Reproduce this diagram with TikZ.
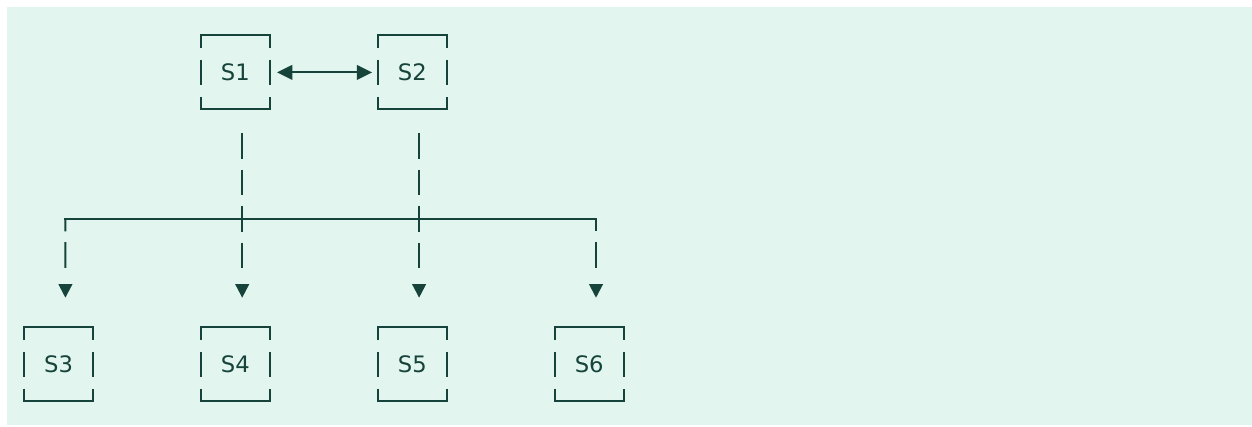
\documentclass[tikz,border=0pt]{standalone}
\usepackage{fontspec}
\setmainfont{DejaVu Sans}
\usepackage{tikz}
\usetikzlibrary{calc}
\usetikzlibrary{arrows.meta}
\definecolor{mint}{HTML}{E2F6EF}
\definecolor{ink}{HTML}{16433A}

\begin{document}
\begin{tikzpicture}[x=0.75pt, y=-0.75pt,
	server/.style={inner sep=0pt, minimum width=51.1pt, minimum height=55pt, text=ink, font=\fontsize{17}{20}\selectfont},
	wire/.style={draw=ink, line width=1.5pt},
	flow/.style={wire, dash pattern=on 19.2pt off 8.2pt on 19.2pt off 8.2pt on 19.2pt off 8.2pt on 19.2pt off 20pt, -{Triangle[length=10.3pt, width=10.3pt]}, shorten >=22.3pt}]
				\useasboundingbox (0,0) rectangle (1252,426);
				\fill[mint] (7,7) rectangle (1252,425);
				
				\node[server] (1) at (235.4,72.4) {S1};
				\node[server] (2) at (412.3,72.4) {S2};
				\node[server] (3) at (58.6,364.4) {S3};
				\node[server] (4) at (235.4,364.4) {S4};
				\node[server] (5) at (412.3,364.4) {S5};
				\node[server] (6) at (589.2,364.4) {S6};
				\coordinate (b3) at (65.4,218.5);
				\coordinate (b6) at (596.0,218.5);
				
				\foreach \n in {1,2,3,4,5,6} {
					\draw[wire] (\n.north west) ++(0,12.8) -- ++(0,-12.8) -- (\n.north east) -- ++(0,12.8);
					\draw[wire] (\n.south west) ++(0,-12.8) -- ++(0,12.8) -- (\n.south east) -- ++(0,-12.8);
					\draw[wire] (\n.west) ++(0,-12.8) -- ++(0,25.6);
					\draw[wire] (\n.east) ++(0,-12.8) -- ++(0,25.6);
				}
				
				\draw[wire, {Triangle[length=11.5pt, width=11pt]}-{Triangle[length=11.5pt, width=11pt]}, shorten <=5.5pt, shorten >=4.4pt] (1) -- (2);
				\draw[wire, line cap=rect] (b3) -- (b6);
				\draw[flow, shorten <=17.8pt] ([xshift=5.1pt]1.south) -- ([xshift=5.1pt]4.north);
				\draw[flow, shorten <=17.8pt] ([xshift=5.1pt]2.south) -- ([xshift=5.1pt]5.north);
				\draw[flow, dash pattern=on 9.6pt off 8.2pt on 19.2pt off 20pt] (b3) -- ([xshift=5.1pt]3.north);
				\draw[flow, dash pattern=on 9.6pt off 8.2pt on 19.2pt off 20pt] (b6) -- ([xshift=5.1pt]6.north);
			\end{tikzpicture}
\end{document}
